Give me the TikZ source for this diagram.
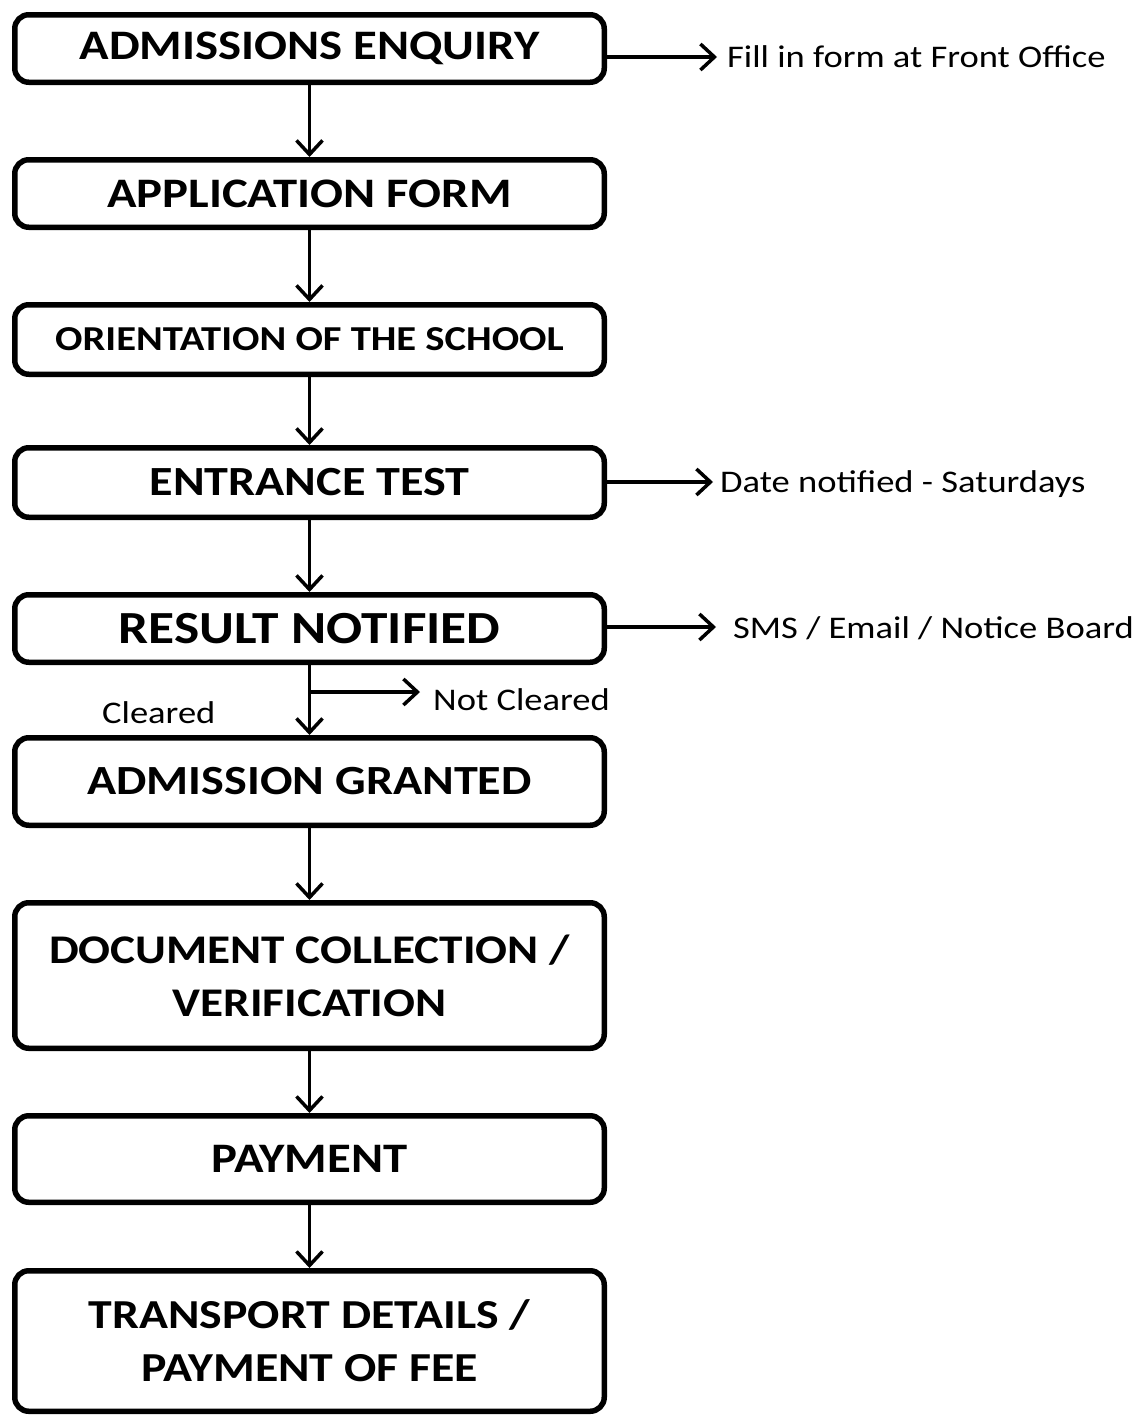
\documentclass[tikz,border=0pt]{standalone}
\usepackage{fontspec}
\setmainfont{Carlito}[FakeStretch=1.16]
\usetikzlibrary{positioning,arrows.meta}
\begin{document}
\begin{tikzpicture}[
  stage/.style={draw, line width=5.5pt, rounded corners=14pt, minimum width=589.5pt,
    inner sep=0pt, outer sep=2.75pt, align=center,
    font=\bfseries\fontsize{42}{53}\selectfont},
  note/.style={inner sep=0pt, font=\fontsize{31.5}{36}\selectfont},
  flow/.style={line width=3.5pt, -{Straight Barb[length=14pt,width=26pt]}}
]
  \useasboundingbox (0,0) rectangle (1141pt,-1416pt);
  \node[stage, minimum height=67.5pt] (enq) at (309.5pt,-48.5pt) {ADMISSIONS ENQUIRY};
  \node[stage, minimum height=67.5pt, below=72pt of enq] (form) {APPLICATION FORM};
  \node[stage, minimum height=69.5pt, below=72pt of form,
        font=\bfseries\fontsize{35}{42}\selectfont] (orient) {ORIENTATION OF THE SCHOOL};
  \node[stage, minimum height=69.5pt, below=68pt of orient,
        font=\bfseries\fontsize{41.5}{48}\selectfont] (test) {ENTRANCE TEST};
  \node[stage, minimum height=67.5pt, below=72pt of test,
        font=\bfseries\fontsize{46}{56}\selectfont] (result) {RESULT NOTIFIED};
  \node[stage, minimum height=87.5pt, below=70pt of result,
        font=\bfseries\fontsize{41.5}{53}\selectfont] (granted) {ADMISSION GRANTED};
  \node[stage, minimum height=145.5pt, below=72pt of granted,
        font=\bfseries\fontsize{40.7}{53}\selectfont] (docs) {DOCUMENT COLLECTION /\\VERIFICATION};
  \node[stage, minimum height=86.5pt, below=62pt of docs] (pay) {PAYMENT};
  \node[stage, minimum height=140.5pt, below=63pt of pay,
        font=\bfseries\fontsize{41.2}{53}\selectfont] (fee) {TRANSPORT DETAILS /\\PAYMENT OF FEE};

  \node[note, anchor=base west] (front) at (727pt,-67pt) {Fill in form at Front Office};
  \node[note, anchor=base west] (sat) at (720pt,-492pt) {Date notified - Saturdays};
  \node[note, anchor=base west] (sms) at (733pt,-638pt) {SMS / Email / Notice Board};
  \coordinate[below=27pt of result] (split);
  \node[note, anchor=base west] (notclr) at (433pt,-710pt) {Not Cleared};
  \node[note, anchor=base west] (clr) at (102pt,-723pt) {Cleared};

  \draw[flow] (enq) -- (form);
  \draw[flow] (form) -- (orient);
  \draw[flow] (orient) -- (test);
  \draw[flow] (test) -- (result);
  \draw[flow] (result) -- (granted);
  \draw[flow] (granted) -- (docs);
  \draw[flow] (docs) -- (pay);
  \draw[flow] (pay) -- (fee);
  \draw[flow] ([yshift=10pt]front.base west -| enq.east) -- ([xshift=-10pt,yshift=10pt]front.base west);
  \draw[flow] ([yshift=10pt]sat.base west -| test.east) -- ([xshift=-7pt,yshift=10pt]sat.base west);
  \draw[flow] ([yshift=11pt]sms.base west -| result.east) -- ([xshift=-17pt,yshift=11pt]sms.base west);
  \draw[flow] (split) -- ([xshift=-13pt]split -| notclr.west);
\end{tikzpicture}
\end{document}
